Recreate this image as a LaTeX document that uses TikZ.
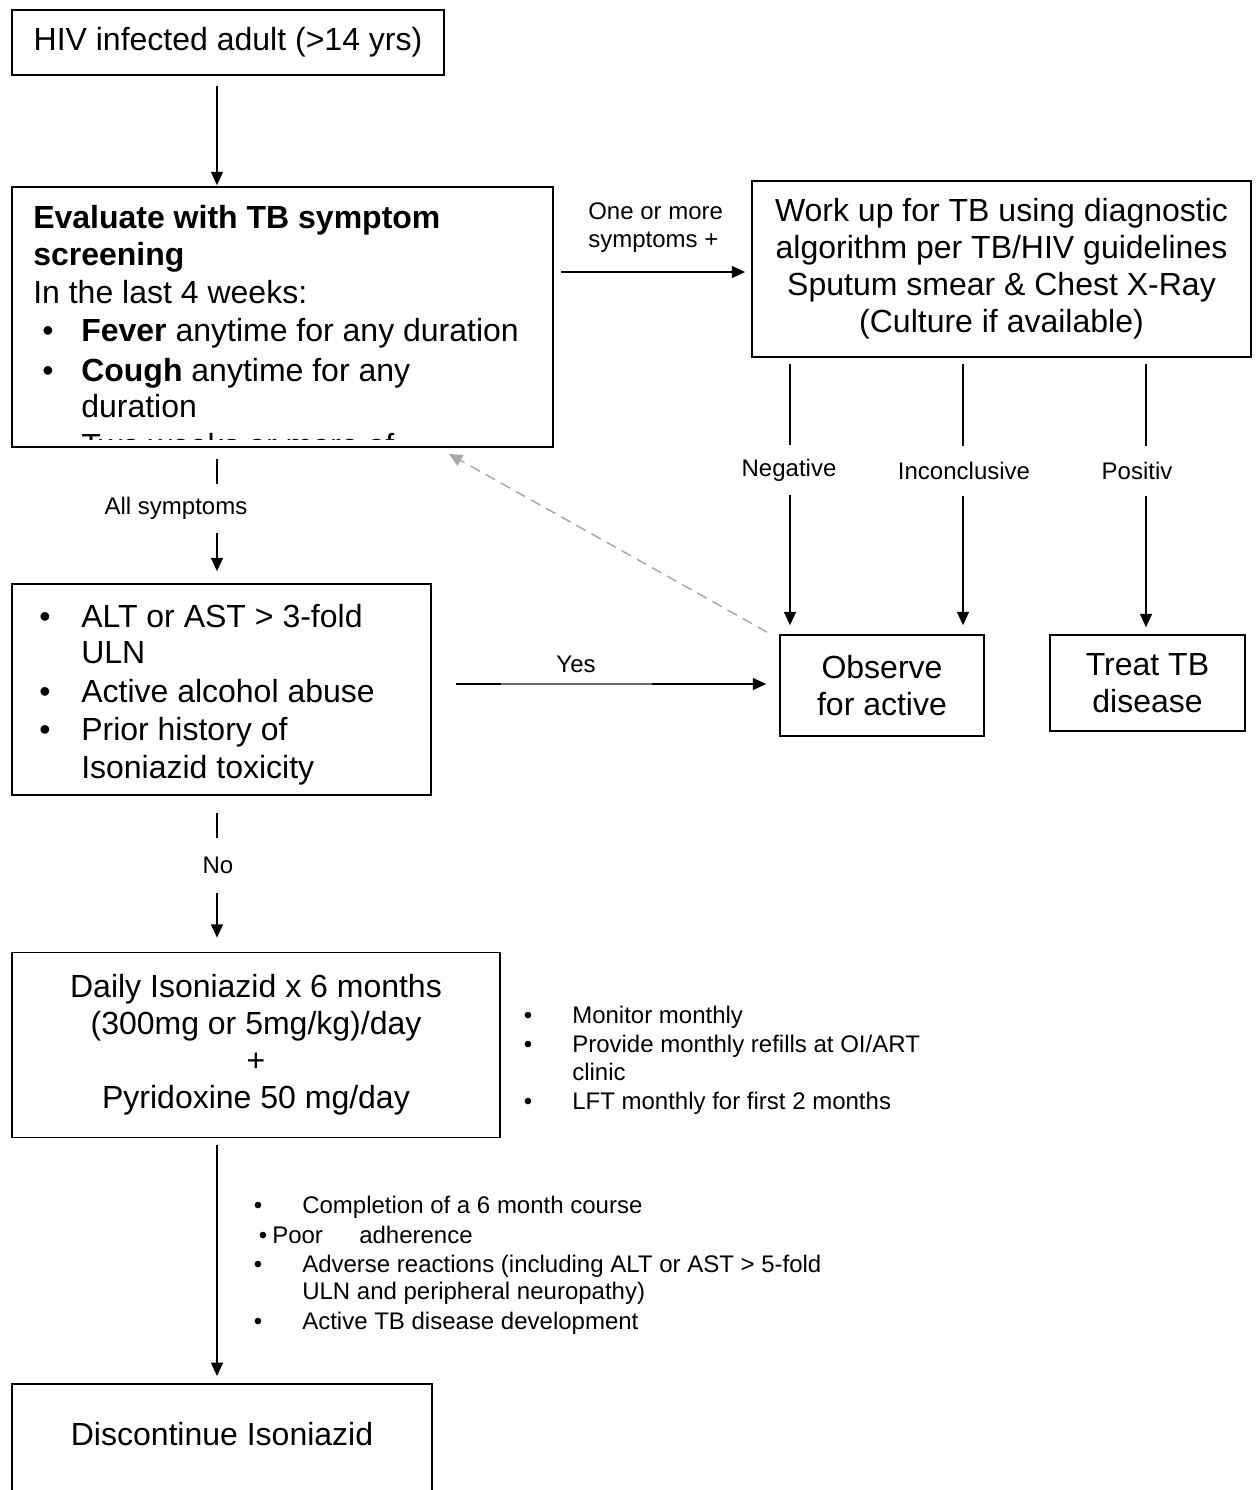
\documentclass[tikz,border=0pt]{standalone}
\usepackage{fontspec}
\setmainfont{Liberation Sans}
\usetikzlibrary{arrows.meta,calc}
\definecolor{dashgray}{HTML}{A8A8A8}
\definecolor{midgray}{HTML}{6A6A6A}
\begin{document}
\begin{tikzpicture}[x=0.75pt,y=-0.75pt,
 box/.style={draw, line width=1.3pt, inner sep=0pt},
 big/.style={font=\fontsize{24}{27.75}\selectfont},
 small/.style={font=\fontsize{18}{20.5}\selectfont},
 conn/.style={line width=1.1pt},
 arr/.style={conn, -{Triangle[length=10pt,width=9pt]}},
 gap/.style={small, fill=white, inner xsep=1pt, inner ysep=0pt},
 tl/.style={big, anchor=base west, inner sep=0pt},
 st/.style={small, anchor=base west, inner sep=0pt},
 bb/.style={big, anchor=base, inner sep=0pt},
 sb/.style={small, anchor=base, inner sep=0pt},
]
\useasboundingbox (0,0) rectangle (1259,1490);
\fill[white] (0,0) rectangle (1259,1490);

% helper coordinates
\coordinate (spine) at (217,0);
\coordinate (ry) at (0,272);
\coordinate (yy) at (0,684);
\coordinate (cneg) at (790,0);
\coordinate (cinc) at (963,0);
\coordinate (cpos) at (1146,0);

% boxes
\node[box, big, minimum width=324pt, minimum height=48.75pt] (hiv) at (228,42.5) {HIV infected adult (>14 yrs)};
\node[box, minimum width=405.75pt, minimum height=195pt] (eval) at (282.5,317) {};
\node[box, big, align=center, minimum width=374.25pt, minimum height=132pt] (workup) at (1001.5,269)
  {Work up for TB using diagnostic\\algorithm per TB/HIV guidelines\\Sputum smear \& Chest X-Ray\\(Culture if available)};
\node[box, minimum width=314.25pt, minimum height=158.25pt] (alt) at (221.5,689.5) {};
\node[box, big, align=center, minimum width=153pt, minimum height=75.75pt] (observe) at (882,685.5) {Observe\\for active};
\node[box, big, align=center, minimum width=146.25pt, minimum height=72pt] (treat) at (1147.5,683) {Treat TB\\disease};
\node[box, big, align=center, minimum width=366pt, minimum height=138.75pt] (daily) at (256,1045)
  {Daily Isoniazid x 6 months\\(300mg or 5mg/kg)/day\\+\\Pyridoxine 50 mg/day};
\node[box, anchor=north, minimum width=315pt, minimum height=112.5pt] (disc) at (222,1383) {};
\node[big, inner sep=0pt] (disctext) at (222,1434) {Discontinue Isoniazid};

% evaluate box text (last line clipped by the box)
\begin{scope}
\clip (12,187) rectangle (553,439.5);
\node[tl] (e1) at (33,228) {\bfseries Evaluate with TB symptom};
\node[tl] (e2) at (33,265) {\bfseries screening};
\node[tl] (e3) at (33,303) {In the last 4 weeks:};
\node[bb] (eb1) at (48,341) {•};
\node[tl] (e4) at (81,341) {\textbf{Fever} anytime for any duration};
\node[bb] (eb2) at (48,381) {•};
\node[tl] (e5) at (81,381) {\textbf{Cough} anytime for any};
\node[tl] (e6) at (81,417) {duration};
\node[bb] (eb3) at (48,456) {•};
\node[tl] (e7) at (81,456) {Two weeks or more of};
\end{scope}

% ALT box text
\node[bb] (ab1) at (45,627) {•};
\node[tl] (a1) at (81,627) {ALT or AST > 3-fold};
\node[tl] (a2) at (81,663) {ULN};
\node[bb] (ab2) at (45,702) {•};
\node[tl] (a3) at (81,702) {Active alcohol abuse};
\node[bb] (ab3) at (45,740) {•};
\node[tl] (a4) at (81,740) {Prior history of};
\node[tl] (a5) at (81,778) {Isoniazid toxicity};

% connectors
\draw[arr, shorten <=7.5pt, shorten >=0.75pt] (hiv.south -| spine) -- (eval.north -| spine);
\draw[arr, shorten <=5.25pt, shorten >=4.5pt] (eval.east |- ry) -- (workup.west |- ry);
\draw[arr, shorten <=8.25pt, shorten >=9pt] (eval.south -| spine) -- (alt.north -| spine);
\draw[arr, shorten <=12.75pt, shorten >=10.5pt] (alt.south -| spine) -- (daily.north -| spine);
\draw[arr, shorten <=4.5pt, shorten >=6.75pt] (workup.south -| cneg) -- (observe.north -| cneg);
\draw[arr, shorten <=4.5pt, shorten >=6.75pt] (workup.south -| cinc) -- (observe.north -| cinc);
\draw[arr, shorten <=4.5pt, shorten >=5.25pt] (workup.south -| cpos) -- (treat.north -| cpos);
\draw[arr, shorten <=18pt, shorten >=9.75pt] (alt.east |- yy) -- (observe.west |- yy);
\draw[conn, midgray] ($(alt.east |- yy)+(69,0)$) -- ($(observe.west |- yy)+(-127,0)$);
\draw[conn, dashgray, dash pattern=on 8pt off 5pt, -{Triangle[length=10pt,width=9pt]}]
  ($(observe.north west)+(-12,-2)$) -- ($(eval.south east)+(-105,6)$);
\draw[arr, shorten <=5.25pt, shorten >=5.25pt] (daily.south -| spine) -- (disc.north -| spine);

% connector labels
\node[small, align=left, anchor=base west, inner sep=0pt] (lblone) at (588,247) {One or more\\symptoms +};
\node[gap, minimum height=36.75pt] (lblall) at (176,508.5) {All symptoms};
\node[gap, minimum height=41.25pt] (lblno) at (218,865.5) {No};
\node[gap, minimum height=37.5pt] (lblneg) at (789,470) {Negative};
\node[gap, minimum height=37.5pt] (lblinc) at (964,471) {Inconclusive};
\node[gap, minimum height=37.5pt] (lblpos) at (1137,471) {Positiv};
\node[small, inner sep=0pt] (lblyes) at (576,664) {Yes};

% monitoring list
\node[sb] (mb1) at (528,1023) {•};
\node[st] (m1) at (572,1023) {Monitor monthly};
\node[sb] (mb2) at (528,1052) {•};
\node[st] (m2) at (572,1052) {Provide monthly refills at OI/ART};
\node[st] (m3) at (572,1080) {clinic};
\node[sb] (mb3) at (528,1109) {•};
\node[st] (m4) at (572,1109) {LFT monthly for first 2 months};

% discontinuation reasons
\node[sb] (db1) at (258,1213) {•};
\node[st] (d1) at (302,1213) {Completion of a 6 month course};
\node[sb] (db2) at (263,1243) {•};
\node[st] (d2a) at (272,1243) {Poor};
\node[st] (d2b) at (359,1243) {adherence};
\node[sb] (db3) at (258,1272) {•};
\node[st] (d3) at (302,1272) {Adverse reactions (including ALT or AST > 5-fold};
\node[st] (d4) at (302,1299) {ULN and peripheral neuropathy)};
\node[sb] (db4) at (258,1329) {•};
\node[st] (d5) at (302,1329) {Active TB disease development};
\end{tikzpicture}
\end{document}
